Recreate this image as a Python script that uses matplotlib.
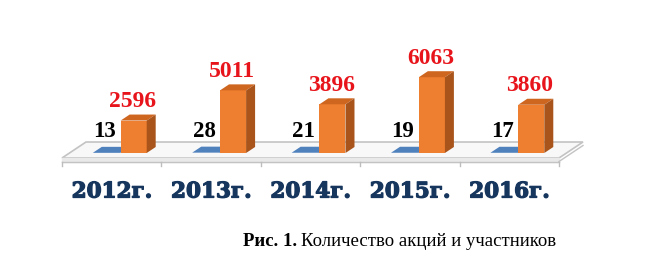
import numpy as np
import matplotlib
matplotlib.use('Agg')
import matplotlib.pyplot as plt
import matplotlib.patheffects as pe
from matplotlib.patches import Polygon

years = ['2012г.', '2013г.', '2014г.', '2015г.', '2016г.']
actions = [13, 28, 21, 19, 17]
participants = [2596, 5011, 3896, 6063, 3860]

caption_bold = 'Рис. 1.'
caption_rest = 'Количество акций и участников'

W, H = 658, 265
fig = plt.figure(figsize=(W / 100, H / 100), dpi=100)
ax = fig.add_axes([0, 0, 1, 1])
ax.set_axis_off()

# pixel geometry of the fake 3d plot
px_x = 99.4          # px per category
x0_px = 62           # left edge of the floor front
py_per_unit = 1 / 80.0
base_py = 153        # value 0 (px from top)

ax.set_xlim(-0.5 - x0_px / px_x, -0.5 + (W - x0_px) / px_x)
ax.set_ylim((base_py - H) / py_per_unit, base_py / py_per_unit)

def dxp(p):
    return p / px_x

def dyp(p):
    return p / py_per_unit

DX = dxp(9)
DY = dyp(6)
n = len(years)
ind = np.arange(n)

# floor
fx0, fx1 = -0.5, n - 0.5
fy_front, fy_back = dyp(-5), dyp(11)
shift = dxp(24)
floor = Polygon([(fx0, fy_front), (fx1, fy_front), (fx1 + shift, fy_back), (fx0 + shift, fy_back)],
                closed=True, facecolor='#F8F8F8', edgecolor='#C3C3C3', lw=1.2, zorder=1)
ax.add_patch(floor)
ax.fill_between([fx0, fx1], dyp(-8.5), fy_front, color='#E9E9E9', zorder=1)
ax.plot([fx0, fx1], [dyp(-8.5), dyp(-8.5)], color='#C3C3C3', lw=1.0, zorder=1)
ax.plot([fx1, fx1 + shift], [dyp(-8.5), fy_back + dyp(-3.5)], color='#C3C3C3', lw=1.0, zorder=1)
for b in np.arange(n + 1) - 0.5:
    ax.plot([b, b], [dyp(-8.5), dyp(-13)], color='#BDBDBD', lw=1.0, zorder=1)


def bar3d(ax, x, v, w, front, top, side, z):
    ax.bar(x, v, w, align='edge', color=front, linewidth=0, zorder=z)
    ax.add_patch(Polygon([(x, v), (x + w, v), (x + w + DX, v + DY), (x + DX, v + DY)],
                         closed=True, facecolor=top, edgecolor='none', zorder=z))
    ax.add_patch(Polygon([(x + w, 0), (x + w + DX, DY), (x + w + DX, v + DY), (x + w, v)],
                         closed=True, facecolor=side, edgecolor='none', zorder=z))


blue_left = -0.19
orange_left = 0.09
bw = 0.275
ow = 0.262

for i in ind:
    bar3d(ax, i + blue_left, actions[i], bw, '#2F5F95', '#4F81BD', '#345F8E', 2)
for i in ind:
    bar3d(ax, i + orange_left, participants[i], ow, '#EF7F30', '#CF6620', '#A9541A', 3)

bold_fx = [pe.withStroke(linewidth=0.9, foreground='#17365D')]
for i in ind:
    ax.text(i + dxp(-7), actions[i] + dyp(16), str(actions[i]), ha='center', va='baseline',
            fontsize=16.5, fontweight='bold', family='Liberation Serif', color='black', zorder=5)
    ax.text(i + dxp(20.7), participants[i] + dyp(13.5), str(participants[i]), ha='center', va='baseline',
            fontsize=17, fontweight='bold', family='Liberation Serif', color='#E8141B', zorder=5)
    ax.text(i, dyp(-38.5), years[i], ha='center', va='center', fontsize=15.5, fontweight='bold',
            family='DejaVu Serif', color='#17365D', zorder=5, path_effects=bold_fx)

# caption, bold part followed by normal text
t1 = fig.text(243 / W, 1 - 246.5 / H, caption_bold, fontsize=13.5, fontweight='bold',
              family='Liberation Serif', va='baseline', ha='left')
ax.annotate(caption_rest, xy=(1, 0), xycoords=t1, xytext=(3, 0), textcoords='offset points',
            fontsize=13.5, family='Liberation Serif', va='bottom', ha='left')

fig.savefig('out.png', dpi=100)
